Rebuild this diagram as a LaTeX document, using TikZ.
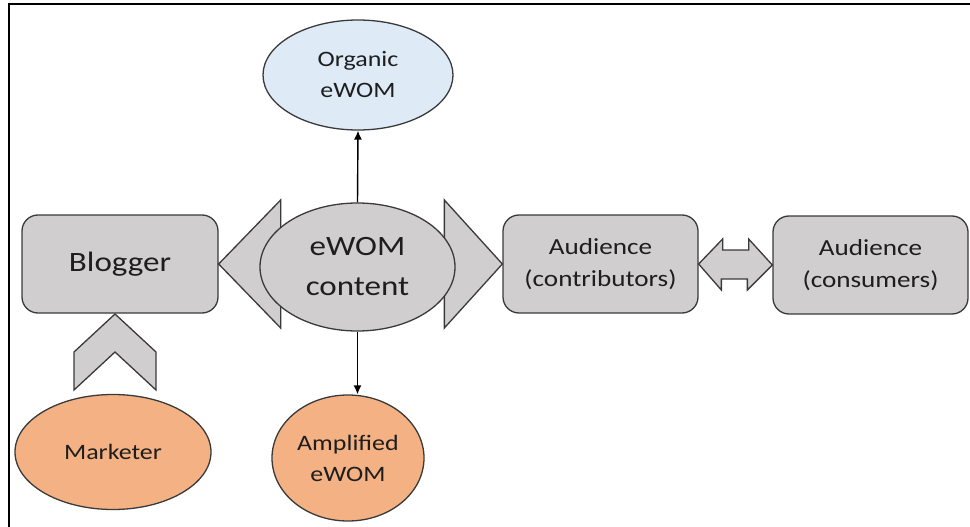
\documentclass[tikz,border=0pt]{standalone}
\usepackage{fontspec}
\setmainfont{Carlito}[FakeStretch=1.18]
\usetikzlibrary{shapes.geometric,arrows.meta,calc}
\definecolor{boxgray}{HTML}{D0CECE}
\definecolor{orangef}{HTML}{F4B183}
\definecolor{bluef}{HTML}{DEEBF7}
\definecolor{edgec}{HTML}{3A3A3A}
\definecolor{txtc}{HTML}{1E1E1E}
\begin{document}
\begin{tikzpicture}[x=1pt,y=-1pt,
  graybox/.style={draw=edgec, line width=1.3pt, fill=boxgray, rounded corners=16pt,
    minimum width=196pt, minimum height=98pt, align=center, inner sep=0pt, text=txtc},
  oval/.style={ellipse, draw=edgec, line width=1.3pt, align=center, inner sep=0pt, text=txtc},
  chev/.style={draw=edgec, line width=1.3pt, fill=boxgray, line join=miter},
  link/.style={draw=black, line width=1.4pt, -{Latex[length=9pt,width=8pt]}},
  bigtxt/.style={font=\fontsize{28}{40}\selectfont},
  midtxt/.style={font=\fontsize{23}{32}\selectfont},
  smalltxt/.style={font=\fontsize{22}{31}\selectfont}
]
\useasboundingbox (0,0) rectangle (970,527);
\draw[line width=2pt] (9,527) -- (9,4) -- (970,4);

% boxes
\node[graybox, bigtxt] (blogger) at (120,264) {Blogger};
\node[graybox, midtxt, minimum width=195pt] (contrib) at (600.5,264) {Audience\\(contributors)};
\node[graybox, midtxt, minimum width=195pt] (consum) at (870.5,265) {Audience\\(consumers)};

% left and right chevrons behind the content ellipse
\draw[chev] (blogger.east) -- ($(blogger.east)+(62,-64)$) -- ($(blogger.east)+(62,64)$) -- cycle;
\draw[chev] (contrib.west) -- ($(contrib.west)+(-58,-64)$) -- ($(contrib.west)+(-58,64)$) -- cycle;

% ellipses
\node[oval, fill=boxgray, bigtxt, minimum width=195pt, minimum height=128pt] (content) at (357.5,267) {eWOM\\content};
\node[oval, fill=bluef, smalltxt, minimum width=190pt, minimum height=110pt] (organic) at (358,75) {Organic\\eWOM};
\node[oval, fill=orangef, smalltxt, minimum width=196pt, minimum height=115pt] (marketer) at (113,452) {Marketer};
\node[oval, fill=orangef, smalltxt, minimum width=152pt, minimum height=126pt] (amplified) at (348,458) {Amplified\\eWOM};

% double arrow between audiences
\draw[chev] (contrib.east) -- ++(24,-25) -- ++(0,11) -- ++(26,0) -- ++(0,-11)
  -- (consum.west) -- ++(-25,25) -- ++(0,-11) -- ++(-26,0) -- ++(0,11) -- cycle;

% up chevron from marketer to blogger
\coordinate (chtip) at (115,314);
\draw[chev] (chtip) -- ++(41,38) -- ++(0,38) -- ++(-41,-38) -- ++(-41,38) -- ++(0,-38) -- cycle;

% arrows
\draw[link] (content.north) -- (organic.south);
\draw[link] (content.south) -- (content.south |- amplified.north);
\end{tikzpicture}
\end{document}
